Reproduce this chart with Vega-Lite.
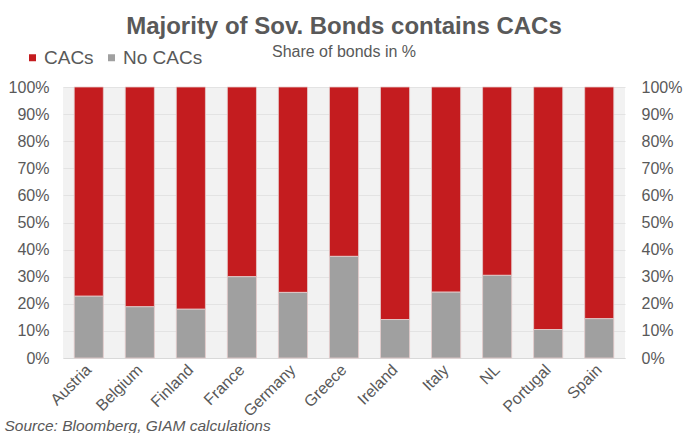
{
  "$schema": "https://vega.github.io/schema/vega-lite/v6.json",
  "width": 562,
  "height": 271,
  "autosize": {"type": "none"},
  "padding": {"left": 63, "top": 87, "right": 59, "bottom": 75},
  "background": "white",
  "title": {
    "text": "Majority of Sov. Bonds contains CACs",
    "subtitle": "Share of bonds in %",
    "anchor": "middle",
    "frame": "group",
    "fontSize": 24,
    "fontWeight": "bold",
    "color": "#595959",
    "subtitleFontSize": 16,
    "subtitleColor": "#595959",
    "subtitlePadding": 5,
    "offset": -12
  },
  "config": {
    "font": "Liberation Sans",
    "view": {"fill": "#f2f2f2", "stroke": null}
  },
  "data": {
    "values": [
      {"country": "Austria", "type": "CACs", "value": 77.2},
      {"country": "Austria", "type": "No CACs", "value": 22.8},
      {"country": "Belgium", "type": "CACs", "value": 81.1},
      {"country": "Belgium", "type": "No CACs", "value": 18.9},
      {"country": "Finland", "type": "CACs", "value": 82.0},
      {"country": "Finland", "type": "No CACs", "value": 18.0},
      {"country": "France", "type": "CACs", "value": 70.0},
      {"country": "France", "type": "No CACs", "value": 30.0},
      {"country": "Germany", "type": "CACs", "value": 75.8},
      {"country": "Germany", "type": "No CACs", "value": 24.2},
      {"country": "Greece", "type": "CACs", "value": 62.5},
      {"country": "Greece", "type": "No CACs", "value": 37.5},
      {"country": "Ireland", "type": "CACs", "value": 85.8},
      {"country": "Ireland", "type": "No CACs", "value": 14.2},
      {"country": "Italy", "type": "CACs", "value": 75.7},
      {"country": "Italy", "type": "No CACs", "value": 24.3},
      {"country": "NL", "type": "CACs", "value": 69.5},
      {"country": "NL", "type": "No CACs", "value": 30.5},
      {"country": "Portugal", "type": "CACs", "value": 89.5},
      {"country": "Portugal", "type": "No CACs", "value": 10.5},
      {"country": "Spain", "type": "CACs", "value": 85.5},
      {"country": "Spain", "type": "No CACs", "value": 14.5}
    ]
  },
  "encoding": {
    "x": {
      "field": "country",
      "type": "nominal",
      "sort": null,
      "scale": {"paddingInner": 0.43, "paddingOuter": 0.22},
      "axis": {
        "title": "Source: Bloomberg, GIAM calculations",
        "titleX": -59,
        "titleY": 72,
        "titleAlign": "left",
        "titleAnchor": null,
        "titleBaseline": "alphabetic",
        "titleFontStyle": "italic",
        "titleFontWeight": "normal",
        "titleFontSize": 15.5,
        "titleColor": "#595959",
        "labelAngle": -45,
        "labelAlign": "right",
        "labelBaseline": "middle",
        "labelFontSize": 16,
        "labelColor": "#595959",
        "labelPadding": 9,
        "ticks": false,
        "domainColor": "#d9d9d9",
        "grid": false
      }
    }
  },
  "layer": [
    {
      "mark": {"type": "bar", "stroke": "#e6cccc", "strokeWidth": 0.8},
      "encoding": {
        "y": {
          "field": "value",
          "type": "quantitative",
          "stack": "zero",
          "scale": {"domain": [0, 100]},
          "axis": {
            "title": null,
            "orient": "left",
            "values": [0, 10, 20, 30, 40, 50, 60, 70, 80, 90, 100],
            "labelExpr": "datum.value + '%'",
            "labelFontSize": 16,
            "labelColor": "#595959",
            "labelPadding": 14,
            "ticks": false,
            "domain": false,
            "grid": true,
            "gridColor": "#e3e3e3"
          }
        },
        "color": {
          "field": "type",
          "type": "nominal",
          "scale": {"domain": ["CACs", "No CACs"], "range": ["#c41c1f", "#a0a0a0"]},
          "legend": {
            "title": null,
            "orient": "none",
            "legendX": -40,
            "legendY": -39,
            "direction": "horizontal",
            "symbolType": "square",
            "symbolSize": 49,
            "symbolStrokeWidth": 0,
            "labelFontSize": 19,
            "labelColor": "#595959",
            "labelOffset": 2,
            "columnPadding": 8
          }
        },
        "order": {"field": "type", "sort": "descending"}
      }
    },
    {
      "mark": {"type": "point", "opacity": 0},
      "encoding": {
        "y": {
          "field": "value",
          "type": "quantitative",
          "scale": {"domain": [0, 100]},
          "axis": {
            "title": null,
            "orient": "right",
            "values": [0, 10, 20, 30, 40, 50, 60, 70, 80, 90, 100],
            "labelExpr": "datum.value + '%'",
            "labelFontSize": 16,
            "labelColor": "#595959",
            "labelPadding": 16,
            "ticks": false,
            "domain": false,
            "grid": false
          }
        }
      }
    }
  ],
  "resolve": {"scale": {"y": "independent"}}
}
